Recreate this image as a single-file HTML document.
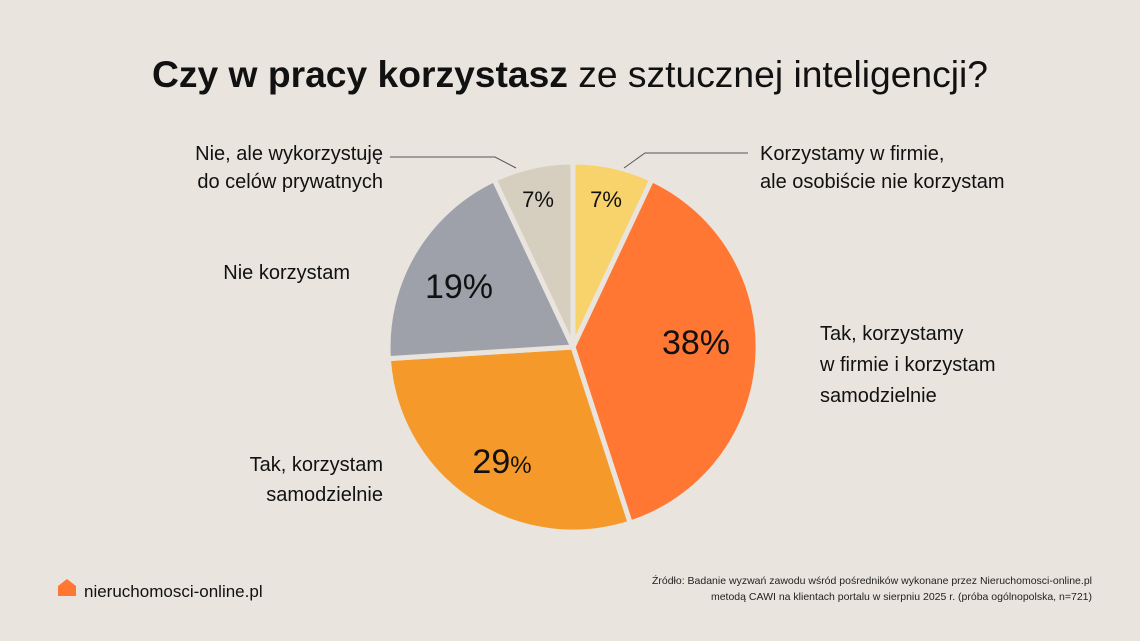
<!DOCTYPE html>
<html><head><meta charset="utf-8"><style>
html,body{margin:0;padding:0;background:#e9e5de;}
svg{display:block;font-family:"Liberation Sans",sans-serif;}
</style></head><body>
<svg width="1140" height="641" viewBox="0 0 1140 641">
<rect width="1140" height="641" fill="#e9e5de"/>
<text x="570" y="87" text-anchor="middle" font-size="37" fill="#111" textLength="836" lengthAdjust="spacingAndGlyphs"><tspan font-weight="bold">Czy w pracy korzystasz</tspan> ze sztucznej inteligencji?</text>
<g stroke="#e9e5de" stroke-width="5" stroke-linejoin="round">
<path d="M573,347 L573,162 A185,185 0 0 1 651.8,179.6 Z" fill="#f8d26a"/>
<path d="M573,347 L651.8,179.6 A185,185 0 0 1 630.2,523 Z" fill="#ff7733"/>
<path d="M573,347 L630.2,523 A185,185 0 0 1 388.4,358.6 Z" fill="#f59a2a"/>
<path d="M573,347 L388.4,358.6 A185,185 0 0 1 494.2,179.6 Z" fill="#9fa1aa"/>
<path d="M573,347 L494.2,179.6 A185,185 0 0 1 573,162 Z" fill="#d6cfc0"/>
</g>
<g fill="#111" text-anchor="middle">
<text x="606" y="207" font-size="22">7%</text>
<text x="538" y="207" font-size="22">7%</text>
<text x="696" y="354" font-size="34">38%</text>
<text x="459" y="298" font-size="34">19%</text>
<text x="502" y="473" font-size="34">29<tspan font-size="24">%</tspan></text>
</g>
<g stroke="#555" stroke-width="1" fill="none">
<polyline points="624,168 645,153 748,153"/>
<polyline points="516,168 495,157 390,157"/>
</g>
<g fill="#111" font-size="20">
<text x="760" y="160">Korzystamy w firmie,</text>
<text x="760" y="188">ale osobiście nie korzystam</text>
<text x="383" y="160" text-anchor="end">Nie, ale wykorzystuję</text>
<text x="383" y="188" text-anchor="end">do celów prywatnych</text>
<text x="350" y="279" text-anchor="end">Nie korzystam</text>
<text x="820" y="340">Tak, korzystamy</text>
<text x="820" y="371">w firmie i korzystam</text>
<text x="820" y="402">samodzielnie</text>
<text x="383" y="471" text-anchor="end">Tak, korzystam</text>
<text x="383" y="501" text-anchor="end">samodzielnie</text>
</g>
<path d="M58,596 L58,586 L67,579 L76,586 L76,596 Z" fill="#ff7733"/>
<text x="84" y="597" font-size="17" fill="#111">nieruchomosci-online.pl</text>
<g font-size="10.5" fill="#222" text-anchor="end">
<text x="1092" y="584">Źródło: Badanie wyzwań zawodu wśród pośredników wykonane przez Nieruchomosci-online.pl</text>
<text x="1092" y="600">metodą CAWI na klientach portalu w sierpniu 2025 r. (próba ogólnopolska, n=721)</text>
</g>
</svg>
</body></html>
